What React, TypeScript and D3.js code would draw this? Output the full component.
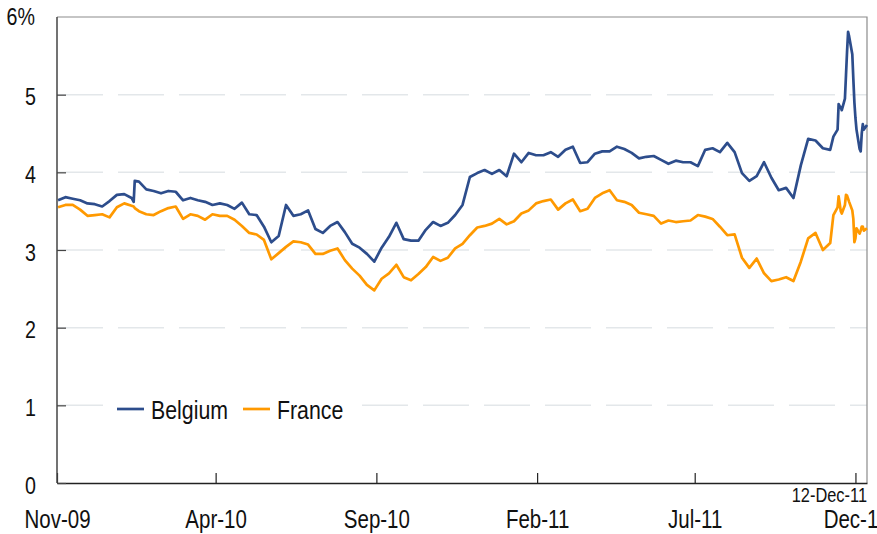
import React, { useEffect, useRef } from 'react'
import * as d3 from 'd3'

// weekly readings, plus a few extra days around the jumps
const dates = [
  '2009-11-02', '2009-11-09', '2009-11-16', '2009-11-23', '2009-11-30', '2009-12-07', '2009-12-14', '2009-12-21', '2009-12-28',
  '2010-01-04', '2010-01-11', '2010-01-13', '2010-01-14', '2010-01-18', '2010-01-25',
  '2010-02-01', '2010-02-08', '2010-02-15', '2010-02-22', '2010-03-01', '2010-03-08', '2010-03-15', '2010-03-22', '2010-03-29',
  '2010-04-05', '2010-04-12', '2010-04-19', '2010-04-26', '2010-05-03', '2010-05-10', '2010-05-17', '2010-05-24', '2010-05-31',
  '2010-06-07', '2010-06-14', '2010-06-21', '2010-06-28', '2010-07-05', '2010-07-12', '2010-07-19', '2010-07-26',
  '2010-08-02', '2010-08-09', '2010-08-16', '2010-08-23', '2010-08-30', '2010-09-06', '2010-09-13', '2010-09-20', '2010-09-27',
  '2010-10-04', '2010-10-11', '2010-10-18', '2010-10-25', '2010-11-01', '2010-11-08', '2010-11-15', '2010-11-22', '2010-11-29',
  '2010-12-06', '2010-12-13', '2010-12-20', '2010-12-27',
  '2011-01-03', '2011-01-10', '2011-01-17', '2011-01-24', '2011-01-31', '2011-02-07', '2011-02-14', '2011-02-21', '2011-02-28',
  '2011-03-07', '2011-03-14', '2011-03-21', '2011-03-28', '2011-04-04', '2011-04-11', '2011-04-18', '2011-04-25',
  '2011-05-02', '2011-05-09', '2011-05-16', '2011-05-23', '2011-05-30', '2011-06-06', '2011-06-13', '2011-06-20', '2011-06-27',
  '2011-07-04', '2011-07-11', '2011-07-18', '2011-07-25', '2011-08-01', '2011-08-08', '2011-08-15', '2011-08-22', '2011-08-29',
  '2011-09-05', '2011-09-12', '2011-09-19', '2011-09-26', '2011-10-03', '2011-10-10', '2011-10-17', '2011-10-24', '2011-10-31',
  '2011-11-07', '2011-11-10', '2011-11-14', '2011-11-15', '2011-11-16', '2011-11-17', '2011-11-18', '2011-11-21', '2011-11-22',
  '2011-11-23', '2011-11-24', '2011-11-25', '2011-11-28', '2011-11-29', '2011-11-30', '2011-12-01', '2011-12-02', '2011-12-05',
  '2011-12-06', '2011-12-07', '2011-12-08', '2011-12-09', '2011-12-12',
]

const belgium = [
  3.64, 3.68, 3.66, 3.64, 3.60, 3.59, 3.56, 3.63, 3.71,
  3.72, 3.67, 3.62, 3.89, 3.88, 3.78,
  3.76, 3.73, 3.76, 3.75, 3.64, 3.67, 3.64, 3.62, 3.58,
  3.60, 3.58, 3.53, 3.61, 3.46, 3.45, 3.30, 3.10, 3.18,
  3.58, 3.44, 3.46, 3.51, 3.27, 3.22, 3.31, 3.36,
  3.23, 3.08, 3.03, 2.95, 2.85, 3.03, 3.17, 3.35, 3.14,
  3.12, 3.12, 3.26, 3.36, 3.31, 3.35, 3.45, 3.58, 3.94,
  3.99, 4.03, 3.98, 4.03,
  3.95, 4.24, 4.13, 4.25, 4.22, 4.22, 4.26, 4.20, 4.29,
  4.33, 4.12, 4.13, 4.24, 4.27, 4.27, 4.33, 4.30,
  4.25, 4.18, 4.20, 4.21, 4.16, 4.11, 4.15, 4.13, 4.13,
  4.08, 4.29, 4.31, 4.26, 4.38, 4.26, 3.99, 3.89, 3.95,
  4.13, 3.93, 3.77, 3.80, 3.67, 4.09, 4.43, 4.41, 4.31,
  4.29, 4.46, 4.55, 4.88, 4.85, 4.84, 4.80, 4.95, 5.25,
  5.55, 5.81, 5.75, 5.52, 5.20, 4.90, 4.70, 4.55, 4.30,
  4.27, 4.50, 4.62, 4.55, 4.61,
]

const france = [
  3.55, 3.58, 3.58, 3.52, 3.44, 3.45, 3.46, 3.42, 3.55,
  3.60, 3.57, 3.56, 3.54, 3.50, 3.46,
  3.45, 3.50, 3.54, 3.56, 3.40, 3.46, 3.44, 3.39, 3.46,
  3.44, 3.44, 3.39, 3.31, 3.22, 3.20, 3.13, 2.88, 2.96,
  3.04, 3.11, 3.10, 3.07, 2.95, 2.95, 2.99, 3.02,
  2.87, 2.76, 2.67, 2.55, 2.48, 2.63, 2.70, 2.81, 2.65,
  2.61, 2.69, 2.78, 2.91, 2.86, 2.90, 3.02, 3.08, 3.19,
  3.29, 3.31, 3.34, 3.40,
  3.33, 3.37, 3.47, 3.51, 3.60, 3.63, 3.65, 3.52, 3.60,
  3.65, 3.50, 3.53, 3.67, 3.73, 3.77, 3.64, 3.62,
  3.58, 3.48, 3.46, 3.44, 3.34, 3.38, 3.36, 3.37, 3.38,
  3.45, 3.43, 3.40, 3.30, 3.19, 3.20, 2.90, 2.77, 2.89,
  2.70, 2.60, 2.62, 2.65, 2.60, 2.85, 3.15, 3.22, 3.00,
  3.09, 3.45, 3.55, 3.69, 3.60, 3.50, 3.47, 3.58, 3.71,
  3.70, 3.66, 3.62, 3.51, 3.40, 3.10, 3.15, 3.28, 3.21,
  3.25, 3.30, 3.30, 3.25, 3.28,
]

const monthTicks = ['2009-11-01', '2010-04-01', '2010-09-01', '2011-02-01', '2011-07-01', '2011-12-01']
const yTicks = [0, 1, 2, 3, 4, 5]
const startDate = '2009-11-01'
const endDate = '2011-12-12'
const endLabel = '12-Dec-11'

// no narrow face installed, so squeeze Liberation Sans horizontally
const FONT = "'Liberation Sans', Arial, sans-serif"
const SQUEEZE = 0.82
const BLUE = '#2D4D8C'
const ORANGE = '#FF9900'

const App: React.FC = () => {
  const ref = useRef<SVGSVGElement>(null)

  useEffect(() => {
    if (!ref.current) return
    const svg = d3.select(ref.current)
    svg.selectAll('*').remove()

    const left = 57
    const right = 867
    const top = 17
    const bottom = 483
    const parse = d3.timeParse('%Y-%m-%d')

    const x = d3
      .scaleTime()
      .domain([parse(startDate)!, parse(endDate)!])
      .range([left, right])
    const y = d3.scaleLinear().domain([0, 6]).range([bottom, top])

    const addText = (
      parent: d3.Selection<any, unknown, null, undefined>,
      tx: number,
      ty: number,
      size: number,
      anchor: string,
      label: string
    ) =>
      parent
        .append('text')
        .attr('transform', `translate(${tx},${ty}) scale(${SQUEEZE},1)`)
        .attr('text-anchor', anchor)
        .attr('fill', '#111')
        .attr('font-family', FONT)
        .attr('font-size', size)
        .text(label)

    // gridlines
    svg
      .append('g')
      .selectAll('line')
      .data(yTicks.filter(d => d > 0))
      .enter()
      .append('line')
      .attr('x1', left)
      .attr('x2', right)
      .attr('y1', d => y(d))
      .attr('y2', d => y(d))
      .attr('stroke', '#E3E7EA')
      .attr('stroke-width', 1.5)
      .attr('stroke-dasharray', '46,15')

    // frame top/right
    svg
      .append('path')
      .attr('d', `M${left},${top}H${right}V${bottom}`)
      .attr('fill', 'none')
      .attr('stroke', '#8C8C8C')
      .attr('stroke-width', 1.2)

    // lines
    const pts = (vals: number[]) => dates.map((d, i) => [parse(d)!, vals[i]] as [Date, number])
    const line = d3
      .line<[Date, number]>()
      .x(d => x(d[0]))
      .y(d => y(d[1]))

    svg
      .append('path')
      .attr('d', line(pts(france)))
      .attr('fill', 'none')
      .attr('stroke', ORANGE)
      .attr('stroke-width', 2.7)
      .attr('stroke-linejoin', 'round')

    svg
      .append('path')
      .attr('d', line(pts(belgium)))
      .attr('fill', 'none')
      .attr('stroke', BLUE)
      .attr('stroke-width', 2.7)
      .attr('stroke-linejoin', 'round')

    // x axis
    const xAxis = svg
      .append('g')
      .attr('transform', `translate(0,${bottom})`)
      .call(
        d3
          .axisBottom(x)
          .tickValues(monthTicks.map(d => parse(d)!))
          .tickFormat(d => d3.timeFormat('%b-%y')(d as Date))
          .tickSizeInner(-10)
          .tickSizeOuter(0)
          .tickPadding(27)
      )
    xAxis.select('.domain').attr('stroke', '#222').attr('stroke-width', 1.5)
    xAxis.selectAll('.tick line').attr('stroke', '#222').attr('stroke-width', 1.2)
    xAxis
      .selectAll('.tick text')
      .attr('fill', '#111')
      .attr('font-family', FONT)
      .attr('font-size', 25)
      .attr('transform', `scale(${SQUEEZE},1)`)

    // y axis
    const yAxis = svg
      .append('g')
      .attr('transform', `translate(${left},0)`)
      .call(
        d3
          .axisLeft(y)
          .tickValues(yTicks)
          .tickFormat(d3.format('d'))
          .tickSizeInner(-9)
          .tickSizeOuter(0)
          .tickPadding(21)
      )
    yAxis.select('.domain').attr('stroke', '#444').attr('stroke-width', 1.5).attr('d', `M0,${top}V${bottom}`)
    yAxis.selectAll('.tick line').attr('stroke', '#444').attr('stroke-width', 1.2)
    yAxis
      .selectAll('.tick text')
      .attr('fill', '#111')
      .attr('font-family', FONT)
      .attr('font-size', 24)
      .attr('x', -21 / SQUEEZE)
      .attr('dy', 10)
      .attr('transform', `scale(${SQUEEZE},1)`)

    addText(svg, 35, y(6) + 8, 24, 'end', '6%')
    addText(svg, right, 502, 20, 'end', endLabel)

    // legend
    const legend = svg.append('g').attr('transform', 'translate(108,392)')
    legend.append('rect').attr('width', 254).attr('height', 34).attr('fill', '#fff')
    const items = [
      { name: 'Belgium', color: BLUE, x: 9 },
      { name: 'France', color: ORANGE, x: 135 },
    ]
    items.forEach(it => {
      legend
        .append('line')
        .attr('x1', it.x)
        .attr('x2', it.x + 27)
        .attr('y1', 17)
        .attr('y2', 17)
        .attr('stroke', it.color)
        .attr('stroke-width', 2.7)
      addText(legend, it.x + 34, 27, 26, 'start', it.name)
    })
  }, [])

  return (
    <svg
      ref={ref}
      width={877}
      height={534}
      style={{ position: 'absolute', left: 0, top: 0, background: '#fff' }}
    />
  )
}

export default App
